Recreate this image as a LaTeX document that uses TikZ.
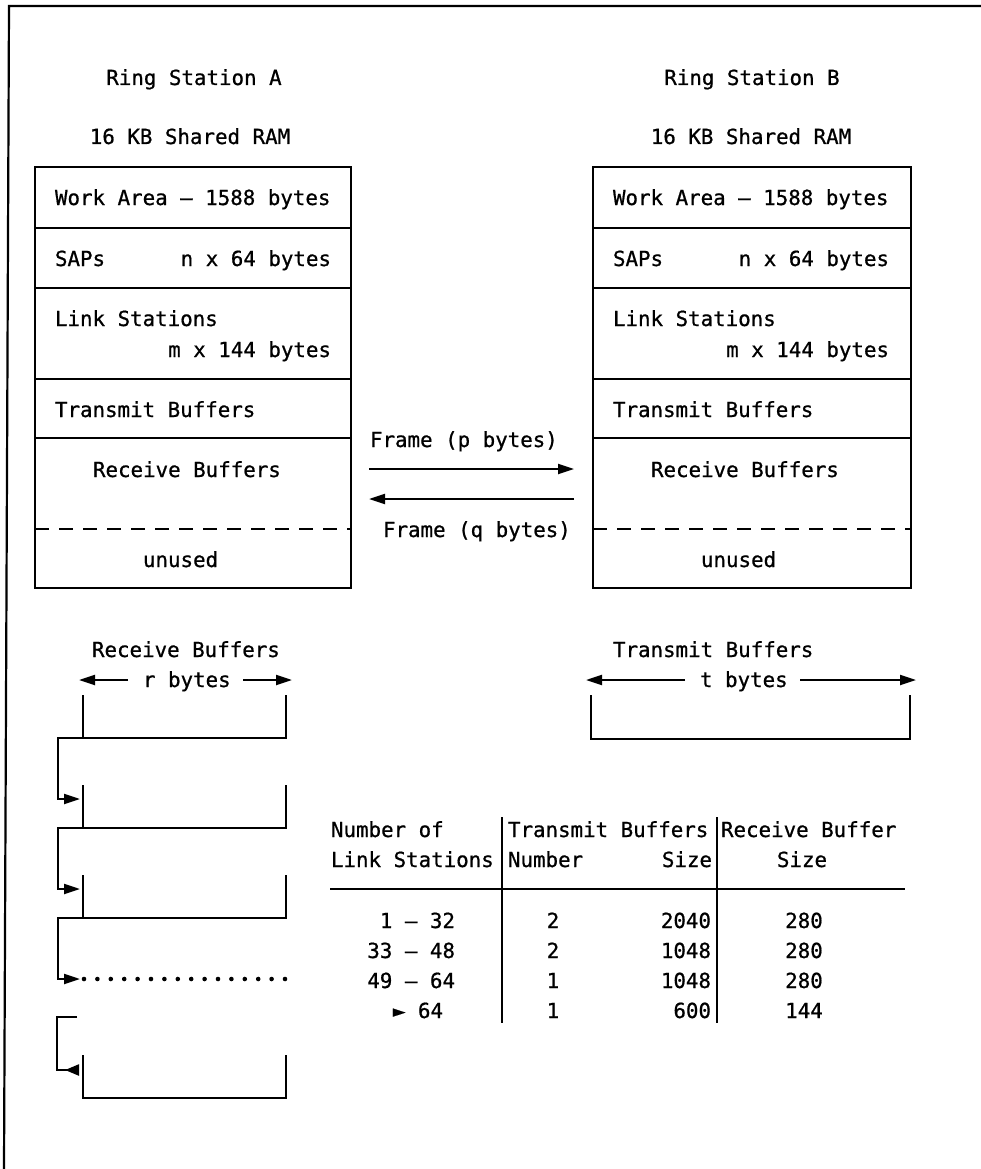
\documentclass[tikz,border=0pt]{standalone}
\usepackage{fontspec}
\newfontfamily\monofam[FakeBold=0.8]{DejaVu Sans Mono}
\usetikzlibrary{arrows.meta}
\begin{document}
\begin{tikzpicture}[x=1pt,y=-1pt,
  every node/.style={font=\monofam\fontsize{20.8}{30}\selectfont, inner sep=0pt, outer sep=0pt},
  ln/.style={line width=2.2pt},
  arr/.style={ln,-{Triangle[length=16pt,width=10pt]}},
  rarr/.style={ln,-{Triangle[length=14pt,width=11pt,reversed]}},
  sep/.style={ln, dash pattern=on 14pt off 10pt},
  dots/.style={line width=4.6pt, line cap=round, dash pattern=on 0pt off 13.4pt}
]
\useasboundingbox (0,0) rectangle (981,1169);
% outer frame
\draw[ln] (981,6) -- (9,6) -- (4,1169);

% ---------- Ring Station A ----------
\node[anchor=base] (rsA) at (194,85) {Ring Station A};
\node[anchor=base] (ramA) at (190,144) {16 KB Shared RAM};
\draw[ln] (35,167) rectangle (351,588);
\draw[ln] (35,228) -- (351,228);
\draw[ln] (35,288) -- (351,288);
\draw[ln] (35,379) -- (351,379);
\draw[ln] (35,438) -- (351,438);
\draw[sep] (35,529) -- (351,529);
\node[anchor=base west] (waA) at (55,205) {Work Area – 1588 bytes};
\node[anchor=base west] (sapA) at (55,266) {SAPs};
\node[anchor=base east] (sapnA) at (331,266) {n x 64 bytes};
\node[anchor=base west] (lsA) at (55,326) {Link Stations};
\node[anchor=base east] (lsmA) at (331,357) {m x 144 bytes};
\node[anchor=base west] (tbA) at (55,417) {Transmit Buffers};
\node[anchor=base west] (rbA) at (93,477) {Receive Buffers};
\node[anchor=base west] (unA) at (143,567) {unused};

% ---------- Ring Station B ----------
\node[anchor=base] (rsB) at (752,85) {Ring Station B};
\node[anchor=base] (ramB) at (751,144) {16 KB Shared RAM};
\draw[ln] (593,167) rectangle (911,588);
\draw[ln] (593,228) -- (911,228);
\draw[ln] (593,288) -- (911,288);
\draw[ln] (593,379) -- (911,379);
\draw[ln] (593,438) -- (911,438);
\draw[sep] (593,529) -- (911,529);
\node[anchor=base west] (waB) at (613,205) {Work Area – 1588 bytes};
\node[anchor=base west] (sapB) at (613,266) {SAPs};
\node[anchor=base east] (sapnB) at (889,266) {n x 64 bytes};
\node[anchor=base west] (lsB) at (613,326) {Link Stations};
\node[anchor=base east] (lsmB) at (889,357) {m x 144 bytes};
\node[anchor=base west] (tbB) at (613,417) {Transmit Buffers};
\node[anchor=base west] (rbB) at (651,477) {Receive Buffers};
\node[anchor=base west] (unB) at (701,567) {unused};

% ---------- frames between stations ----------
\node[anchor=base west] (fp) at (370,447) {Frame (p bytes)};
\node[anchor=base west] (fq) at (383,537) {Frame (q bytes)};
\coordinate (pA) at (369,469);
\coordinate (pB) at (574,469);
\coordinate (qB) at (574,499);
\coordinate (qA) at (369,499);
\draw[arr] (pA) -- (pB);
\draw[arr] (qB) -- (qA);

% ---------- receive buffer chain ----------
\node[anchor=base west] (rbl) at (92,657) {Receive Buffers};
\node[anchor=base west] (rbytes) at (143,687) {r bytes};
\coordinate (rl0) at (128,680);
\coordinate (rl1) at (79,680);
\coordinate (rr0) at (243,680);
\coordinate (rr1) at (292,680);
\draw[arr] (rl0) -- (rl1);
\draw[arr] (rr0) -- (rr1);

\draw[ln] (83,695) -- (83,738) -- (286,738) -- (286,695);
\draw[ln] (83,785) -- (83,828) -- (286,828) -- (286,785);
\draw[ln] (83,875) -- (83,918) -- (286,918) -- (286,875);
\draw[ln] (83,1055) -- (83,1098) -- (286,1098) -- (286,1055);

\coordinate (c1) at (83,738);
\coordinate (a1) at (80,799);
\coordinate (c2) at (83,828);
\coordinate (a2) at (80,889);
\coordinate (c3) at (83,918);
\coordinate (a3) at (80,979);
\draw[arr] (c1) -- (58,738) -- (58,799) -- (a1);
\draw[arr] (c2) -- (58,828) -- (58,889) -- (a2);
\draw[arr] (c3) -- (58,918) -- (58,979) -- (a3);
\draw[dots] (84,979) -- (287,979);

\coordinate (c4) at (77,1017);
\coordinate (a4) at (79,1070);
\draw[rarr] (c4) -- (57,1017) -- (57,1070) -- (a4);

% ---------- transmit buffer ----------
\node[anchor=base west] (tbl) at (613,657) {Transmit Buffers};
\node[anchor=base west] (tbytes) at (700,687) {t bytes};
\coordinate (tl0) at (685,680);
\coordinate (tl1) at (586,680);
\coordinate (tr0) at (800,680);
\coordinate (tr1) at (916,680);
\draw[arr] (tl0) -- (tl1);
\draw[arr] (tr0) -- (tr1);
\draw[ln] (591,695) -- (591,739) -- (910,739) -- (910,695);

% ---------- table ----------
\draw[ln] (502,817) -- (502,1023);
\draw[ln] (717,817) -- (717,1023);
\draw[ln] (330,889) -- (905,889);
\node[anchor=base west] (h1a) at (331,837) {Number of};
\node[anchor=base west] (h1b) at (331,867) {Link Stations};
\node[anchor=base west] (h2a) at (508,837) {Transmit Buffers};
\node[anchor=base west] (h2b) at (508,867) {Number};
\node[anchor=base east] (h3b) at (712,867) {Size};
\node[anchor=base west] (h4a) at (721,837) {Receive Buffer};
\node[anchor=base] (h4b) at (802,867) {Size};

\node[anchor=base east] (r1a) at (455,928) {1 – 32};
\node[anchor=base east] (r2a) at (455,958) {33 – 48};
\node[anchor=base east] (r3a) at (455,988) {49 – 64};
\node[anchor=base east] (r4a) at (443,1018) {► 64};
\node[anchor=base] (r1b) at (553,928) {2};
\node[anchor=base] (r2b) at (553,958) {2};
\node[anchor=base] (r3b) at (553,988) {1};
\node[anchor=base] (r4b) at (553,1018) {1};
\node[anchor=base east] (r1c) at (711,928) {2040};
\node[anchor=base east] (r2c) at (711,958) {1048};
\node[anchor=base east] (r3c) at (711,988) {1048};
\node[anchor=base east] (r4c) at (711,1018) {600};
\node[anchor=base] (r1d) at (804,928) {280};
\node[anchor=base] (r2d) at (804,958) {280};
\node[anchor=base] (r3d) at (804,988) {280};
\node[anchor=base] (r4d) at (804,1018) {144};
\end{tikzpicture}
\end{document}
